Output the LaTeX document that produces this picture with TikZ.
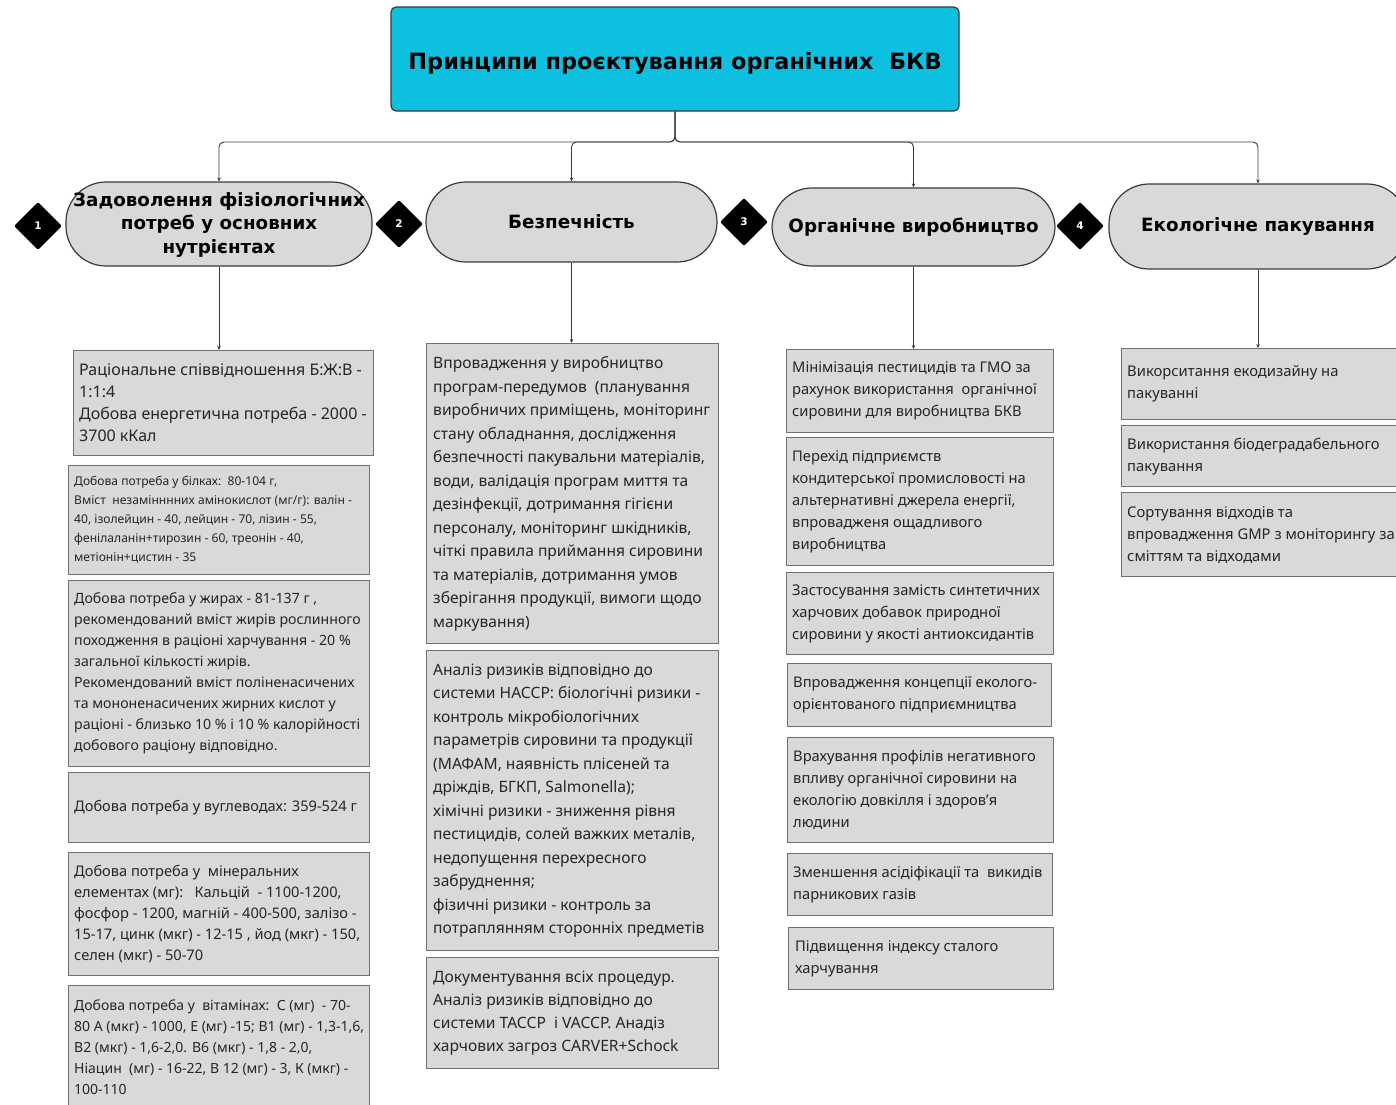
\documentclass[tikz,border=0pt]{standalone}
\usepackage{fontspec}
\setmainfont{Noto Sans}
\newfontfamily\hdfont{DejaVu Sans}
\usetikzlibrary{shapes.geometric,arrows.meta}
\definecolor{titlecyan}{HTML}{0EC0E0}
\definecolor{boxfill}{HTML}{D9D9D9}
\definecolor{boxline}{HTML}{707070}
\definecolor{pilline}{HTML}{3A3A3A}
\definecolor{conn}{HTML}{3A3A3A}
\newcommand{\fsz}[2]{\fontsize{#1}{#2}\selectfont}
\begin{document}
\begin{tikzpicture}[x=1pt,y=-1pt,
  titlebox/.style={draw=pilline, line width=1.2pt, fill=titlecyan, rounded corners=5pt,
    minimum width=568pt, minimum height=104pt, font=\hdfont\bfseries\fsz{22.4}{27}},
  pill/.style={draw=pilline, line width=1.2pt, fill=boxfill, rounded corners=40pt,
    align=center, font=\hdfont\bfseries\fsz{18.3}{23.5}},
  badge/.style={diamond, fill=black, minimum width=48pt, minimum height=48pt, inner sep=0pt,
    text=white, font=\hdfont\bfseries\fsz{10.5}{11}, rounded corners=2pt},
  infobox/.style={draw=boxline, line width=1.3pt, fill=boxfill, anchor=north west, inner sep=0pt},
  infotext/.style={anchor=west, align=left, inner sep=0pt, text=black!85},
  conn/.style={draw=conn, line width=0.9pt},
  arr/.style={conn, -{Stealth[length=4pt,width=3.5pt]}}
]
\useasboundingbox (0,0) rectangle (1396,1104);
\fill[white] (0,0) rectangle (1396,1104);

% title
\node[titlebox, text depth=0pt, text height=20pt] (title) at (675,59) {Принципи проєктування органічних\ \ БКВ};

% pills
\node[pill, minimum width=306pt, minimum height=84pt, text depth=2pt] (p1) at (219,224) {Задоволення фізіологічних\\потреб у основних\\нутрієнтах};
\node[pill, minimum width=291pt, minimum height=80pt] (p2) at (571.5,222) {Безпечність};
\node[pill, minimum width=283pt, minimum height=78pt] (p3) at (913.5,227) {Органічне виробництво};
\node[pill, minimum width=298pt, minimum height=85pt] (p4) at (1258,226.5) {Екологічне пакування};

% badges
\node[badge] (d1) at (38,226) {1};
\node[badge] (d2) at (399,224) {2};
\node[badge] (d3) at (744,222) {3};
\node[badge] (d4) at (1080,226) {4};

% branch connectors
\coordinate (hub) at (675,142);
\draw[arr, rounded corners=5pt] (title.south) -- (hub) -| (p1.north);
\draw[arr, rounded corners=5pt] (title.south) -- (hub) -| (p2.north);
\draw[arr, rounded corners=5pt] (title.south) -- (hub) -| (p3.north);
\draw[arr, rounded corners=5pt] (title.south) -- (hub) -| (p4.north);

% column 1
\node[infobox, minimum width=300pt, minimum height=105pt] (b11) at (73,350) {};
\node[infotext, font=\fsz{16}{22}] (t11) at ([xshift=6pt]b11.west) {Раціональне співвідношення Б:Ж:В -\\1:1:4\\Добова енергетична потреба - 2000 -\\3700 кКал};
\node[infobox, minimum width=301pt, minimum height=109pt] (b12) at (68,465) {};
\node[infotext, font=\fsz{12.1}{19}] (t12) at ([xshift=6pt]b12.west) {Добова потреба у білках:\ \ 80-104 г,\\Вміст\ \ незамінннних амінокислот (мг/г): валін -\\40, ізолейцин - 40, лейцин - 70, лізин - 55,\\фенілаланін+тирозин - 60, треонін - 40,\\метіонін+цистин - 35};
\node[infobox, minimum width=301pt, minimum height=186pt] (b13) at (68,580) {};
\node[infotext, font=\fsz{14.15}{21}] (t13) at ([xshift=6pt]b13.west) {Добова потреба у жирах - 81-137 г ,\\рекомендований вміст жирів рослинного\\походження в раціоні харчування - 20 \%\\загальної кількості жирів.\\Рекомендований вміст поліненасичених\\та мононенасичених жирних кислот у\\раціоні - близько 10 \% і 10 \% калорійності\\добового раціону відповідно.};
\node[infobox, minimum width=301pt, minimum height=70pt] (b14) at (68,772) {};
\node[infotext, font=\fsz{14.6}{21}] (t14) at ([xshift=6pt]b14.west) {Добова потреба у вуглеводах: 359-524 г};
\node[infobox, minimum width=301pt, minimum height=123pt] (b15) at (68,852) {};
\node[infotext, font=\fsz{14.6}{21}] (t15) at ([xshift=6pt]b15.west) {Добова потреба у\ \ мінеральних\\елементах (мг):\ \ \ Кальцій\ \ - 1100-1200,\\фосфор - 1200, магній - 400-500, залізо -\\15-17, цинк (мкг) - 12-15 , йод (мкг) - 150,\\селен (мкг) - 50-70};
\node[infobox, minimum width=301pt, minimum height=123pt] (b16) at (68,985) {};
\node[infotext, font=\fsz{14}{21}] (t16) at ([xshift=6pt]b16.west) {Добова потреба у\ \ вітамінах:\ \ С (мг)\ \ - 70-\\80 А (мкг) - 1000, Е (мг) -15; В1 (мг) - 1,3-1,6,\\В2 (мкг) - 1,6-2,0. В6 (мкг) - 1,8 - 2,0,\\Ніацин\ \ (мг) - 16-22, В 12 (мг) - 3, К (мкг) -\\100-110};

% column 2
\node[infobox, minimum width=292pt, minimum height=300pt] (b21) at (426,343) {};
\node[infotext, font=\fsz{15.6}{23.5}] (t21) at ([xshift=7pt]b21.west) {Впровадження у виробництво\\програм-передумов\ \ (планування\\виробничих приміщень, моніторинг\\стану обладнання, дослідження\\безпечності пакувальни матеріалів,\\води, валідація програм миття та\\дезінфекції, дотримання гігієни\\персоналу, моніторинг шкідників,\\чіткі правила приймання сировини\\та матеріалів, дотримання умов\\зберігання продукції, вимоги щодо\\маркування)};
\node[infobox, minimum width=292pt, minimum height=300pt] (b22) at (426,650) {};
\node[infotext, font=\fsz{15.6}{23.5}] (t22) at ([xshift=7pt]b22.west) {Аналіз ризиків відповідно до\\системи НАССР: біологічні ризики -\\контроль мікробіологічних\\параметрів сировини та продукції\\(МАФАМ, наявність плісеней та\\дріждів, БГКП, Salmonella);\\хімічні ризики - зниження рівня\\пестицидів, солей важких металів,\\недопущення перехресного\\забруднення;\\фізичні ризики - контроль за\\потраплянням сторонніх предметів};
\node[infobox, minimum width=292pt, minimum height=111pt] (b23) at (426,957) {};
\node[infotext, font=\fsz{15.6}{23.3}] (t23) at ([xshift=7pt]b23.west) {Документування всіх процедур.\\Аналіз ризиків відповідно до\\системи ТАССР\ \ і VACCP. Анадіз\\харчових загроз CARVER+Schock};

% column 3
\node[infobox, minimum width=267pt, minimum height=83pt] (b31) at (786,349) {};
\node[infotext, font=\fsz{14.7}{22}] (t31) at ([xshift=6pt]b31.west) {Мінімізація пестицидів та ГМО за\\рахунок використання\ \ органічної\\сировини для виробництва БКВ};
\node[infobox, minimum width=267pt, minimum height=128pt] (b32) at (786,437) {};
\node[infotext, font=\fsz{14.7}{22}] (t32) at ([xshift=6pt]b32.west) {Перехід підприємств\\кондитерської промисловості на\\альтернативні джерела енергії,\\впроваджeня ощадливого\\виробництва};
\node[infobox, minimum width=267pt, minimum height=82pt] (b33) at (786,572) {};
\node[infotext, font=\fsz{14.7}{22}] (t33) at ([xshift=6pt]b33.west) {Застосування замість синтетичних\\харчових добавок природної\\сировини у якості антиоксидантів};
\node[infobox, minimum width=264pt, minimum height=63pt] (b34) at (787,663) {};
\node[infotext, font=\fsz{14.7}{22}] (t34) at ([xshift=6pt]b34.west) {Впровадження концепції еколого-\\орієнтованого підприємництва};
\node[infobox, minimum width=266pt, minimum height=105pt] (b35) at (787,737) {};
\node[infotext, font=\fsz{14.7}{22}] (t35) at ([xshift=6pt]b35.west) {Врахування профілів негативного\\впливу органічної сировини на\\екологію довкілля і здоров’я\\людини};
\node[infobox, minimum width=265pt, minimum height=62pt] (b36) at (787,853) {};
\node[infotext, font=\fsz{14.7}{22}] (t36) at ([xshift=6pt]b36.west) {Зменшення асідіфікації та\ \ викидів\\парникових газів};
\node[infobox, minimum width=265pt, minimum height=62pt] (b37) at (788,927) {};
\node[infotext, font=\fsz{14.7}{22}] (t37) at ([xshift=7pt]b37.west) {Підвищення індексу сталого\\харчування};

% column 4
\node[infobox, minimum width=290pt, minimum height=71pt] (b41) at (1121,348) {};
\node[infotext, font=\fsz{14.8}{22}] (t41) at ([xshift=6pt]b41.west) {Викорситання екодизайну на\\пакуванні};
\node[infobox, minimum width=290pt, minimum height=61pt] (b42) at (1121,425) {};
\node[infotext, font=\fsz{14.8}{22}] (t42) at ([xshift=6pt]b42.west) {Використання біодеградабельного\\пакування};
\node[infobox, minimum width=290pt, minimum height=84pt] (b43) at (1121,492) {};
\node[infotext, font=\fsz{14.8}{22}] (t43) at ([xshift=6pt]b43.west) {Сортування відходів та\\впровадження GMP з моніторингу за\\сміттям та відходами};

% pill-to-box arrows
\draw[arr] (p1.south) -- (p1.south |- b11.north);
\draw[arr] (p2.south) -- (p2.south |- b21.north);
\draw[arr] (p3.south) -- (p3.south |- b31.north);
\draw[arr] (p4.south) -- (p4.south |- b41.north);
\end{tikzpicture}
\end{document}
